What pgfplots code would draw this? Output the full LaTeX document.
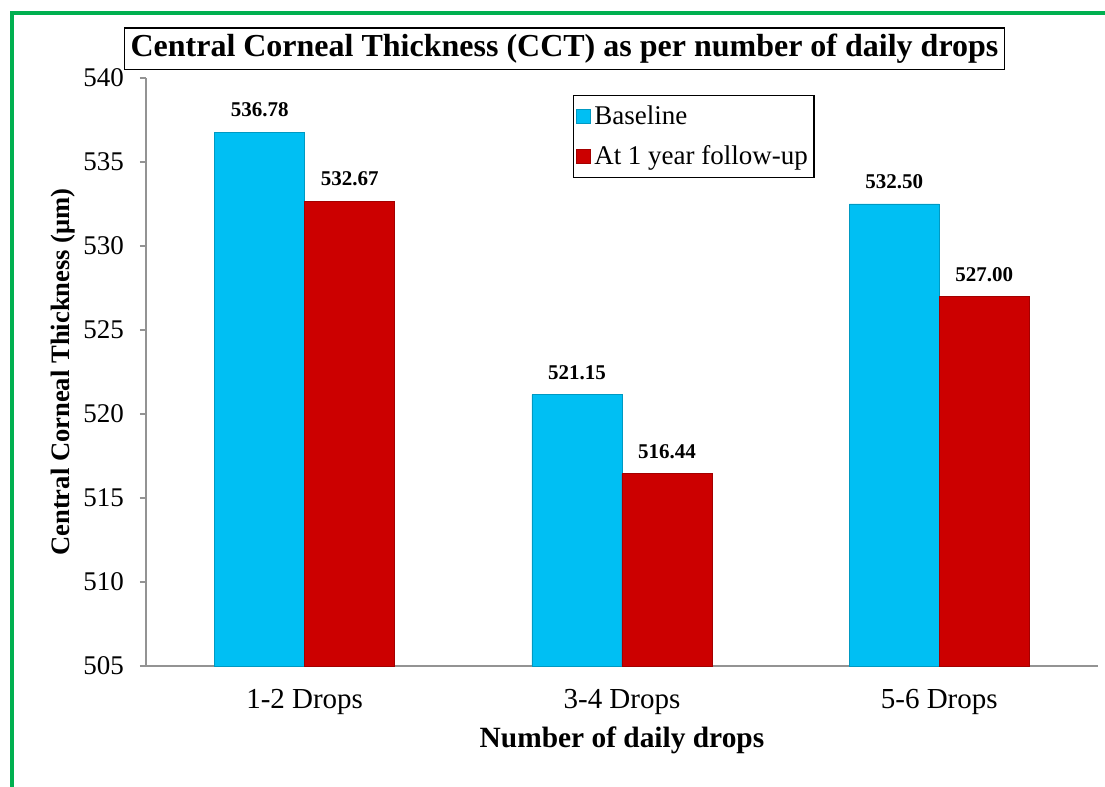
\documentclass[border=0pt]{standalone}
\usepackage{pgfplots}
\pgfplotsset{compat=1.18}
\usepackage{fontspec}
\setmainfont{Liberation Serif}
\definecolor{cblue}{RGB}{0,191,243}
\definecolor{cred}{RGB}{204,0,0}
\definecolor{cgreen}{RGB}{0,176,80}
\begin{document}
\begin{tikzpicture}
\begin{axis}[
  scale only axis, width=476pt, height=294pt,
  ybar=0pt, bar width=45pt,
  xmin=-0.5, xmax=2.5, ymin=505, ymax=540,
  ytick={505,510,...,540},
  xtick=data, xticklabels={1-2 Drops,3-4 Drops,5-6 Drops},
  axis x line*=bottom, axis y line*=left,
  axis line style={draw=gray!85, line width=0.8pt},
  x axis line style={-}, y axis line style={-},
  major tick length=3pt,
  ytick style={draw=gray!85, line width=0.8pt},
  xtick style={draw=none},
  tick align=outside,
  /pgf/number format/assume math mode=true,
  yticklabel style={font=\fontsize{13.5}{15}\selectfont, xshift=-4.5pt},
  xticklabel style={font=\fontsize{14.5}{16}\selectfont, anchor=center, yshift=-15pt},
  xlabel={\textbf{Number of daily drops}},
  xlabel style={font=\fontsize{14.7}{17}\selectfont, at={(axis description cs:0.5,0)}, anchor=center, yshift=-37pt},
  ylabel={\textbf{Central Corneal Thickness (μm)}},
  ylabel style={font=\fontsize{13.3}{16}\selectfont, at={(axis description cs:-0.0872,0.5)}, anchor=center},
  nodes near coords,
  nodes near coords style={font=\fontsize{10.5}{12}\bfseries\selectfont, yshift=4pt,
    /pgf/number format/.cd, fixed, fixed zerofill, precision=2, assume math mode=true},
  legend style={at={(0.4485,0.971)}, anchor=north west, draw=black, line width=0.7pt,
    font=\fontsize{13.5}{15}\selectfont, row sep=5pt, inner xsep=1pt, inner ysep=3pt},
  legend cell align=left,
  legend image code/.code={\draw[#1, line width=0.3pt] (0pt,-3.2pt) rectangle (7pt,3.8pt);},
  clip=false,
]
\addplot[fill=cblue, draw=cblue!80!black, line width=0.4pt] coordinates {(0,536.78) (1,521.15) (2,532.50)};
\addplot[fill=cred, draw=cred!80!black, line width=0.4pt] coordinates {(0,532.67) (1,516.44) (2,527.00)};
\legend{Baseline, At 1 year follow-up}
\node[draw=black, line width=0.8pt, fill=white, inner sep=3pt, font=\fontsize{16}{18}\bfseries\selectfont]
  at (rel axis cs:0.4396,1.050) {Central Corneal Thickness (CCT) as per number of daily drops};
\coordinate (O) at (rel axis cs:0,0);
\end{axis}
\pgfresetboundingbox
\useasboundingbox ([shift={(-73pt,-60.5pt)}]O) rectangle ([shift={(479.5pt,333pt)}]O);
\draw[cgreen,line width=2.2pt] ([shift={(-67pt,-60.5pt)}]O) -- ([shift={(-67pt,326.5pt)}]O) -- ([shift={(479.5pt,326.5pt)}]O);
\end{tikzpicture}
\end{document}
